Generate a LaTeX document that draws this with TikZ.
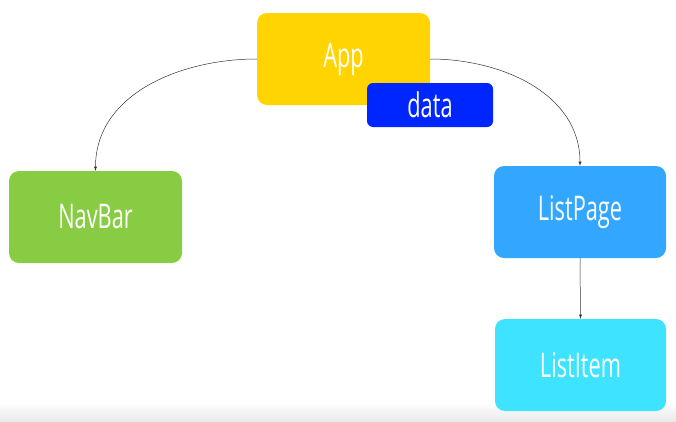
\documentclass[tikz,border=0pt]{standalone}
\usepackage{fontspec}
\setmainfont[FakeStretch=0.64]{Open Sans}
\usepackage{tikz}

\definecolor{appyellow}{HTML}{FFD400}
\definecolor{datablue}{HTML}{0026FF}
\definecolor{navgreen}{HTML}{88CC44}
\definecolor{pageblue}{HTML}{33A6FF}
\definecolor{itemcyan}{HTML}{3DE3FF}

\begin{document}
\begin{tikzpicture}[x=1pt, y=-1pt,
	comp/.style={rounded corners=10pt, text=white, minimum width=173pt, minimum height=92pt,
		font=\fontsize{34}{34}\selectfont, inner sep=0pt},
	link/.style={line width=0.5pt, black!80, -latex}]
	\useasboundingbox (0,0) rectangle (676,421);
	%floor
	\shade[top color=white, bottom color=black!8] (0,402) rectangle (676,421);
	
	%boxes
	\node[comp, fill=appyellow] (app) at (343.5,59) {App};
	\node[comp, fill=datablue, minimum width=126pt, minimum height=44pt, rounded corners=6pt] (data) at (430,105) {data};
	\node[comp, fill=navgreen] (navbar) at (95.5,217) {NavBar};
	\node[comp, fill=pageblue, minimum width=172pt] (listpage) at (580,212) {ListPage};
	\node[comp, fill=itemcyan, minimum width=171pt] (listitem) at (580.5,365) {ListItem};
	
	%links
	\draw[link] (app.west) to[out=180, in=90] (navbar.north);
	\draw[link] (app.east) to[out=0, in=90] (listpage.north);
	\draw[link] (listpage.south) -- (listitem.north);
\end{tikzpicture}
\end{document}
